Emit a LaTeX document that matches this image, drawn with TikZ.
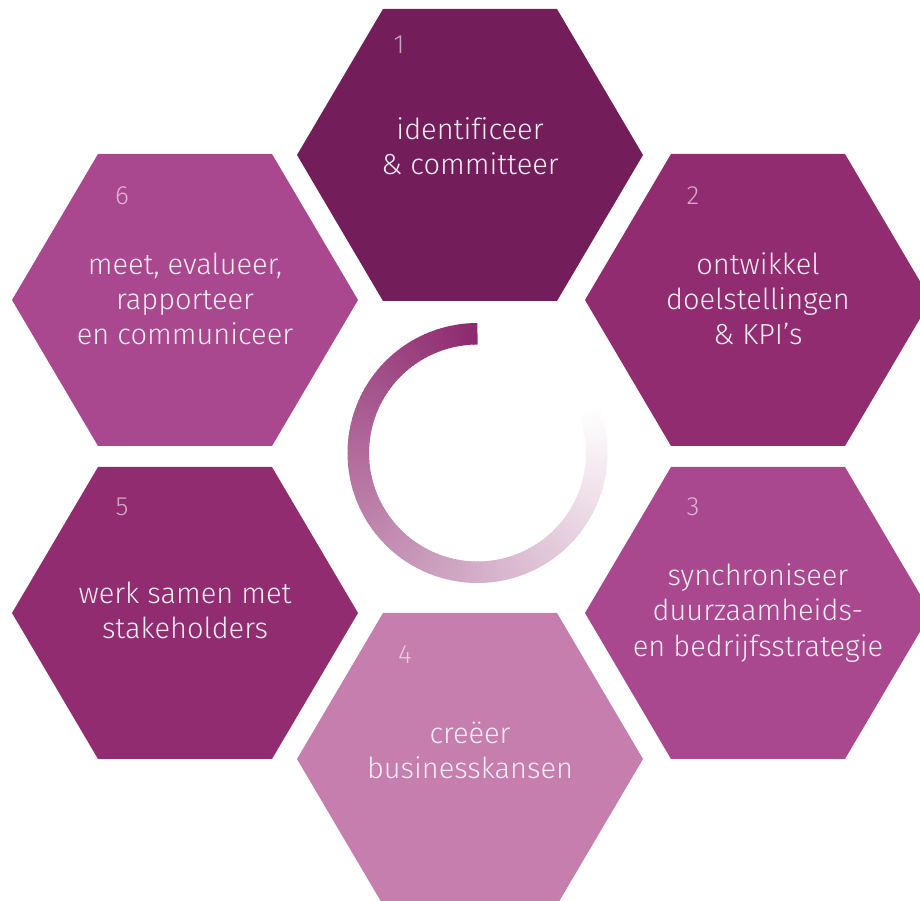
\documentclass[tikz,border=0pt]{standalone}
\usepackage{fontspec}
\setmainfont{Fira Sans Light}[Ligatures=NoCommon]
\usetikzlibrary{positioning,calc}

\definecolor{plumdark}{HTML}{731E5B}
\definecolor{plum}{HTML}{912C70}
\definecolor{orchid}{HTML}{A9478F}
\definecolor{orchidlight}{HTML}{C67EAE}
\definecolor{ringdark}{HTML}{8E2A6F}
\definecolor{hextext}{HTML}{F7EDF4}

\tikzset{
  hexlabel/.style={align=center, text=hextext, inner sep=0pt,
    font=\fontsize{16.5}{20}\selectfont},
  hexnum/.style={text=white, text opacity=0.6, inner sep=0pt,
    font=\fontsize{15}{18}\selectfont},
}

\begin{document}
\begin{tikzpicture}[x=0.02cm, y=0.02cm]
    \clip (0,0) rectangle (920,-901);

    % the six steps
    \foreach \n/\cx/\cy/\col/\nx/\ny/\ty/\txt in {
        1/470/-155/plumdark/399/-45/-146/{identificeer\\\& committeer},
        2/758/-300/plum/693/-196/-299/{ontwikkel\\doelstellingen\\\& KPI’s},
        3/758/-613/orchid/693/-507/-613/{synchroniseer\\duurzaamheids-\\en bedrijfsstrategie},
        4/470/-759/orchidlight/405/-655/-750/{creëer\\businesskansen},
        5/185/-613/plum/122/-507/-610/{werk samen met\\stakeholders},
        6/185/-300/orchid/122/-196/-299/{meet, evalueer,\\rapporteer\\en communiceer}}{
        \coordinate (h\n) at (\cx,\cy);
        \fill[fill=\col] (h\n) ++(-173,0) -- ++(86,146) -- ++(174,0)
            -- ++(86,-146) -- ++(-86,-146) -- ++(-174,0) -- cycle;
        \node[hexnum] (n\n) at (\nx,\ny) {\n};
        \node[hexlabel] (t\n) at (\cx,\ty) {\txt};
    }

    % fading ring in the middle
    \coordinate (ringc) at (477.5,-453);
    \foreach \a in {90,92,...,378}{
        \pgfmathsetmacro\p{100-(\a-90)/2.9}
        \draw[line width=0.43cm, ringdark!\p!white]
            (ringc) ++(\a:119.25) arc[start angle=\a, end angle=\a+2.5, radius=119.25];
    }
\end{tikzpicture}
\end{document}
